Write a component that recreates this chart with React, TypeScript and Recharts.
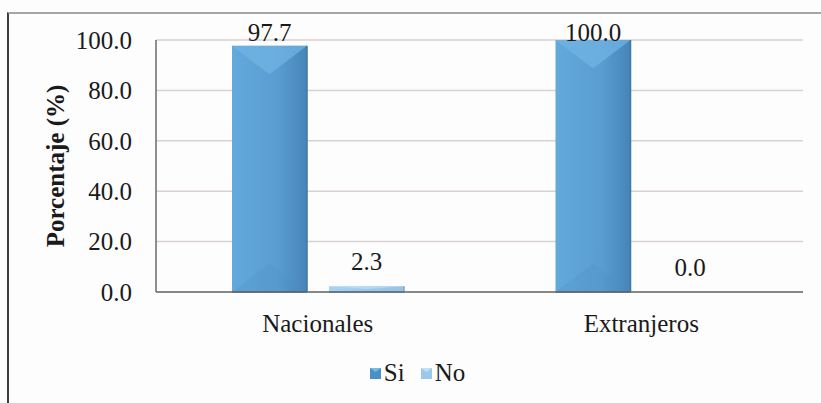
import React from 'react';
import { BarChart, Bar, XAxis, YAxis, CartesianGrid, Legend, LabelList } from 'recharts';

const categories = ['Nacionales', 'Extranjeros'];
const siValues = [97.7, 100.0];
const noValues = [2.3, 0.0];
const yTicks = [0, 20, 40, 60, 80, 100];
const seriesNames = ['Si', 'No'];

const data = categories.map((name, i) => ({ name, si: siValues[i], no: noValues[i] }));

const FONT = "'Liberation Serif', 'Times New Roman', serif";

const BevelBar = (props: any) => {
  const { x, y, width, height, variant } = props;
  if (!width || height <= 0) return null;
  const d = Math.min(width * 0.38, height / 2);
  const isSi = variant === 'si';
  return (
    <g>
      <rect x={x} y={y} width={width} height={height} fill={isSi ? 'url(#siBody)' : 'url(#noBody)'} />
      <polygon
        points={`${x},${y} ${x + width},${y} ${x + width / 2},${y + d}`}
        fill={isSi ? '#72b5e4' : '#c2e0f6'}
        opacity={0.7}
      />
      <polygon
        points={`${x},${y + height} ${x + width},${y + height} ${x + width / 2},${y + height - d}`}
        fill={isSi ? '#4b8cbf' : '#8fbde2'}
        opacity={0.2}
      />
      <line x1={x + width} y1={y} x2={x + width} y2={y + height} stroke={isSi ? '#3f77a6' : '#7aa9d0'} strokeWidth={1.5} />
      <line x1={x} y1={y + height} x2={x + width} y2={y + height} stroke={isSi ? '#34668f' : '#5f8db5'} strokeWidth={1.5} />
    </g>
  );
};

const ValueLabel = (props: any) => {
  const { x, y, width, value } = props;
  const cy = Math.max(y - 25, 32);
  return (
    <text
      x={x + width / 2}
      y={cy}
      textAnchor="middle"
      dominantBaseline="central"
      style={{ fontFamily: FONT, fontSize: 25 }}
      fill="#1a1a1a"
    >
      {Number(value).toFixed(1)}
    </text>
  );
};

const LegendIcon = ({ variant }: { variant: string }) => (
  <svg width={11} height={11} style={{ marginRight: 3 }}>
    <rect x={0} y={0} width={11} height={11} fill={variant === 'si' ? '#4a90c6' : '#9cc8ec'} />
    <polygon points="0,0 11,0 5.5,4" fill={variant === 'si' ? '#74b9e8' : '#c2e0f6'} />
  </svg>
);

const CustomLegend = () => (
  <div
    style={{
      display: 'flex',
      justifyContent: 'center',
      alignItems: 'center',
      height: 40,
      paddingLeft: 32,
      fontFamily: FONT,
      fontSize: 25,
      color: '#1a1a1a',
    }}
  >
    {seriesNames.map((s, i) => (
      <div key={s} style={{ display: 'flex', alignItems: 'center', marginRight: i === 0 ? 16 : 0 }}>
        <LegendIcon variant={i === 0 ? 'si' : 'no'} />
        <span>{s}</span>
      </div>
    ))}
  </div>
);

const YLabel = (props: any) => {
  const { viewBox } = props;
  const cx = viewBox.x + 55;
  const cy = viewBox.y + viewBox.height / 2;
  return (
    <text
      x={cx}
      y={cy}
      transform={`rotate(-90, ${cx}, ${cy})`}
      textAnchor="middle"
      dominantBaseline="central"
      style={{ fontFamily: FONT, fontSize: 25, fontWeight: 'bold' }}
      fill="#1a1a1a"
    >
      Porcentaje (%)
    </text>
  );
};

const tickStyle = { fontFamily: FONT, fontSize: 25, fill: '#1a1a1a' };

export default function App() {
  return (
    <div
      style={{
        position: 'absolute',
        left: 0,
        top: 0,
        width: 821,
        height: 403,
        overflow: 'hidden',
        background: '#fdfdfd',
        fontFamily: FONT,
      }}
    >
      <div
        style={{
          position: 'absolute',
          left: 7,
          top: 12,
          width: 900,
          height: 500,
          borderLeft: '2px solid #3c3c3c',
          borderTop: '2px solid #a6a6a6',
        }}
      />
      <div style={{ position: 'absolute', left: 0, top: 0 }}>
        <BarChart
          width={821}
          height={403}
          data={data}
          margin={{ top: 40, right: 18, bottom: 10, left: 0 }}
          barSize={75}
          barGap={22}
          style={{ fontFamily: FONT }}
        >
          <defs>
            <linearGradient id="siBody" x1="0" y1="0" x2="1" y2="0">
              <stop offset="0%" stopColor="#62a9dc" />
              <stop offset="60%" stopColor="#5a9ed1" />
              <stop offset="100%" stopColor="#4784b8" />
            </linearGradient>
            <linearGradient id="noBody" x1="0" y1="0" x2="1" y2="0">
              <stop offset="0%" stopColor="#a8d2f2" />
              <stop offset="100%" stopColor="#94c3e8" />
            </linearGradient>
          </defs>
          <CartesianGrid vertical={false} stroke="#d9d2cf" strokeWidth={1.5} />
          <XAxis
            dataKey="name"
            height={61}
            axisLine={{ stroke: '#6a6a6a', strokeWidth: 1.5 }}
            tickLine={false}
            tickMargin={16}
            tick={tickStyle}
          />
          <YAxis
            width={156}
            domain={[0, 100]}
            ticks={yTicks}
            interval={0}
            tickFormatter={(v: number) => v.toFixed(1)}
            axisLine={{ stroke: '#6a6a6a', strokeWidth: 1.5 }}
            tickLine={false}
            tickMargin={18}
            tick={tickStyle}
            label={<YLabel />}
          />
          <Legend
            verticalAlign="bottom"
            content={<CustomLegend />}
            wrapperStyle={{ height: 40 }}
          />
          <Bar dataKey="si" name="Si" isAnimationActive={false} shape={(p: any) => <BevelBar {...p} variant="si" />}>
            <LabelList dataKey="si" content={<ValueLabel />} />
          </Bar>
          <Bar dataKey="no" name="No" isAnimationActive={false} shape={(p: any) => <BevelBar {...p} variant="no" />}>
            <LabelList dataKey="no" content={<ValueLabel />} />
          </Bar>
        </BarChart>
      </div>
    </div>
  );
}
